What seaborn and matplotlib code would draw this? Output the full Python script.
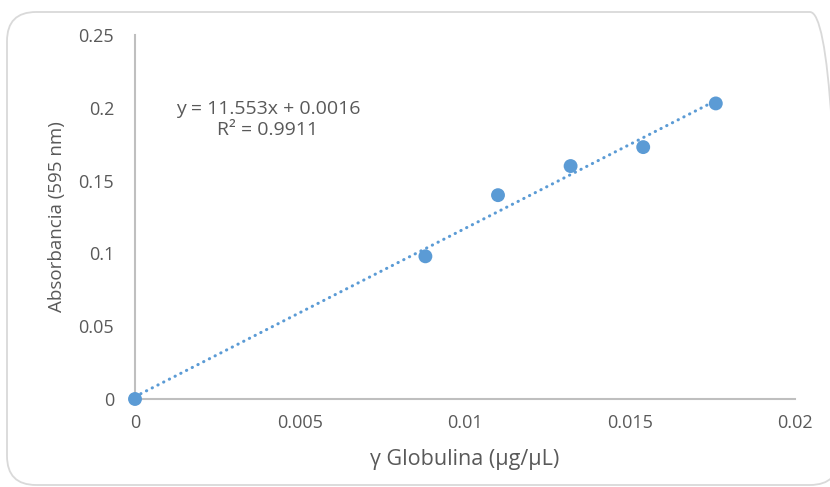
import matplotlib
matplotlib.use("Agg")
import matplotlib.pyplot as plt
from matplotlib.patches import FancyBboxPatch
import seaborn as sns
import pandas as pd

# Standard curve: gamma globulin concentration vs absorbance at 595 nm
concentration = [0.0, 0.0088, 0.0110, 0.0132, 0.0154, 0.0176]
absorbance = [0.0, 0.098, 0.140, 0.160, 0.173, 0.203]

# Linear trend line reported on the chart
slope = 11.553
intercept = 0.0016
r_squared = 0.9911

x_ticks = [0, 0.005, 0.01, 0.015, 0.02]
x_tick_labels = ["0", "0.005", "0.01", "0.015", "0.02"]
y_ticks = [0, 0.05, 0.1, 0.15, 0.2, 0.25]
y_tick_labels = ["0", "0.05", "0.1", "0.15", "0.2", "0.25"]

sns.set_theme(style="white")
plt.rcParams["font.family"] = ["Open Sans", "DejaVu Sans"]

POINT_COLOR = "#5B9BD5"
TEXT_COLOR = "#595959"
AXIS_COLOR = "#BFBFBF"

fig = plt.figure(figsize=(8.3, 4.87), dpi=100)
fig.patch.set_facecolor("white")

# Rounded chart frame (right side runs past the canvas edge)
frame = FancyBboxPatch((7 / 830, 2 / 487), 832 / 830, 473 / 487,
                       boxstyle="round,pad=0,rounding_size=0.035",
                       transform=fig.transFigure, facecolor="none",
                       edgecolor="#D9D9D9", linewidth=1.3,
                       mutation_aspect=830 / 487, zorder=-1)
fig.patches.append(frame)

ax = fig.add_axes([135 / 830, 88 / 487, 660 / 830, 364 / 487])
ax.set_facecolor("none")

df = pd.DataFrame({"x": concentration, "y": absorbance})
trend = pd.DataFrame({"x": [min(concentration), max(concentration)]})
trend["y"] = slope * trend["x"] + intercept

sns.lineplot(data=trend, x="x", y="y", ax=ax, color=POINT_COLOR,
             linewidth=2.2, linestyle=(0, (0.1, 2.0)),
             dash_capstyle="round", zorder=2)
sns.scatterplot(data=df, x="x", y="y", ax=ax, color=POINT_COLOR,
                s=100, edgecolor="none", zorder=3, clip_on=False)

ax.set_xlim(0, 0.02)
ax.set_ylim(0, 0.25)
ax.set_xticks(x_ticks)
ax.set_xticklabels(x_tick_labels)
ax.set_yticks(y_ticks)
ax.set_yticklabels(y_tick_labels)
ax.tick_params(axis="both", length=0, labelsize=13, colors=TEXT_COLOR)
ax.tick_params(axis="x", pad=11)
ax.tick_params(axis="y", pad=15)

for side in ["top", "right"]:
    ax.spines[side].set_visible(False)
for side in ["left", "bottom"]:
    ax.spines[side].set_color(AXIS_COLOR)
    ax.spines[side].set_linewidth(1.5)

ax.set_xlabel("γ Globulina (µg/µL)", fontsize=15.5, color=TEXT_COLOR, labelpad=12)
ax.set_ylabel("Absorbancia (595 nm)", fontsize=13.5, color=TEXT_COLOR, labelpad=9)

ax.text(0.00403, 0.192, f"y = {slope}x + {intercept}\nR² = {r_squared}",
        ha="center", va="center", fontsize=14, color=TEXT_COLOR,
        linespacing=1.2)

fig.savefig("out.png", dpi=100, facecolor="white")
